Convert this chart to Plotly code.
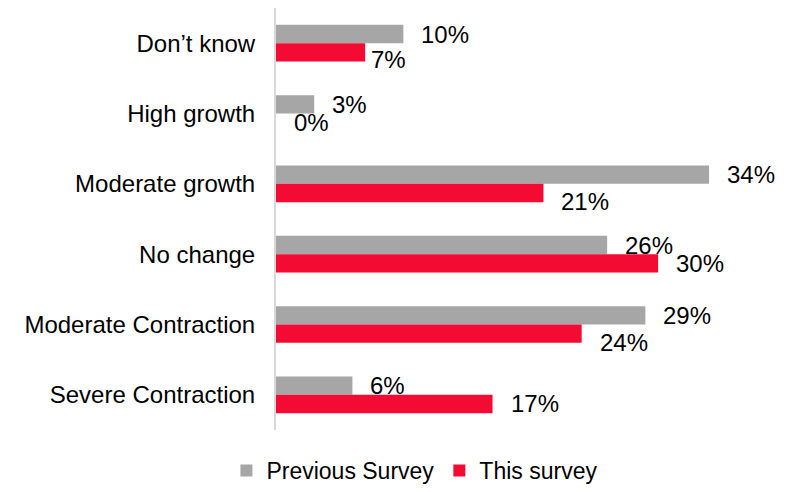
import plotly.graph_objects as go

# Survey responses (percent of respondents)
categories = ["Don’t know", "High growth", "Moderate growth", "No change",
              "Moderate Contraction", "Severe Contraction"]
previous_survey = [10, 3, 34, 26, 29, 6]
this_survey = [7, 0, 21, 30, 24, 17]

GRAY = "#A6A6A6"
RED = "#F40B33"
FONT = "Liberation Sans, Arial, sans-serif"

fig = go.Figure()
fig.add_trace(go.Bar(name="Previous Survey", y=categories, x=previous_survey,
                     orientation="h", marker=dict(color=GRAY, line_width=0)))
fig.add_trace(go.Bar(name="This survey", y=categories, x=this_survey,
                     orientation="h", marker=dict(color=RED, line_width=0)))

# value labels: gray bar sits in the upper half of each slot, red in the lower half
BAR_HALF = 9
red_nudge = {0: (-12, -7), 2: (0, -9), 4: (0, -9)}  # index -> (dx, dy) in px
annotations = []
for i, cat in enumerate(categories):
    annotations.append(dict(x=previous_survey[i], y=cat, text=f"{previous_survey[i]}%",
                            xanchor="left", yanchor="middle", xshift=16,
                            yshift=BAR_HALF, showarrow=False,
                            font=dict(family=FONT, size=24, color="black")))
    dx, dy = red_nudge.get(i, (0, 0))
    annotations.append(dict(x=this_survey[i], y=cat, text=f"{this_survey[i]}%",
                            xanchor="left", yanchor="middle", xshift=16 + dx,
                            yshift=-BAR_HALF + dy, showarrow=False,
                            font=dict(family=FONT, size=24, color="black")))

fig.update_layout(
    width=786, height=492,
    margin=dict(l=276, r=26, t=8, b=62, autoexpand=False),
    paper_bgcolor="white", plot_bgcolor="white",
    barmode="group", bargap=0.478, bargroupgap=0,
    font=dict(family=FONT, size=24, color="black"),
    annotations=annotations,
    showlegend=True,
    legend=dict(orientation="h", x=0.287, xanchor="center", y=-0.147, yanchor="bottom",
                font=dict(family=FONT, size=23, color="black"),
                traceorder="normal", itemclick=False),
)
fig.update_xaxes(visible=False, range=[0, 38], showgrid=False, zeroline=False)
fig.update_yaxes(autorange="reversed", showgrid=False, zeroline=False,
                 showline=True, linecolor="#D9D9D9", linewidth=2,
                 ticks="", ticklabelstandoff=14,
                 tickfont=dict(family=FONT, size=24, color="black"))

fig.write_html("out.html")
